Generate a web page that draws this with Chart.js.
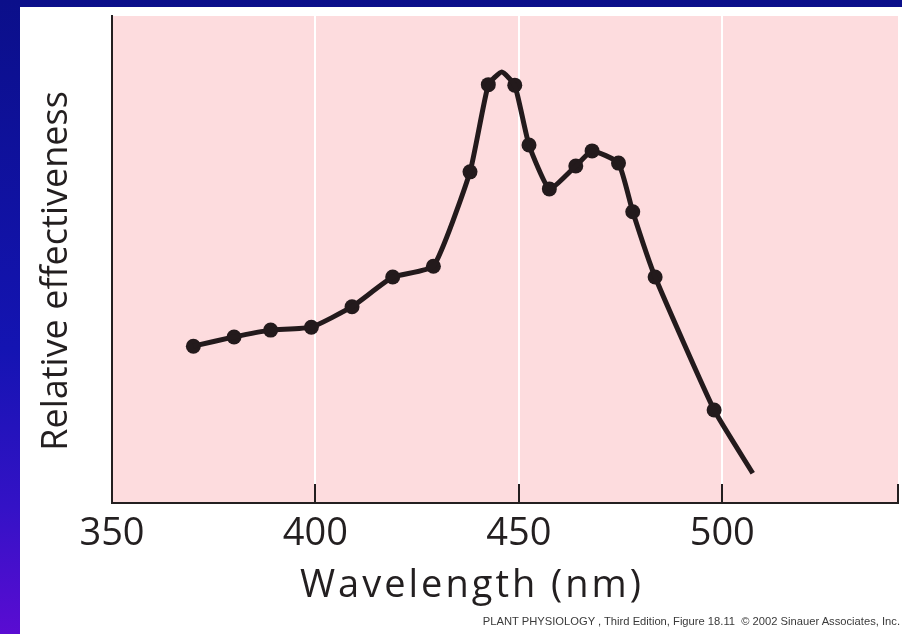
<!DOCTYPE html>
<html>
<head>
<meta charset="utf-8">
<title>Relative effectiveness vs wavelength</title>
<script src="https://cdn.jsdelivr.net/npm/chart.js@4.4.0/dist/chart.umd.min.js"></script>
<style>
	html, body { margin: 0; padding: 0; }
	body {
		width: 902px; height: 634px; overflow: hidden; position: relative;
		background: linear-gradient(to bottom, #0b0f8a 0%, #1414b2 55%, #3412c6 80%, #5a0cd2 100%);
	}
	#slide { position: absolute; left: 20px; top: 7px; width: 882px; height: 627px; background: #ffffff; }
	#chart { position: absolute; left: 0; top: 0; }
	#credit {
		position: absolute; right: 2px; top: 608px;
		font: 11.2px "Liberation Sans", Arial, sans-serif; color: #3a3a3a; white-space: nowrap;
	}
</style>
</head>
<body>
<div id="slide">
	<canvas id="chart" width="882" height="627"></canvas>
	<div id="credit">PLANT PHYSIOLOGY , Third Edition, Figure 18.11 &nbsp;© 2002 Sinauer Associates, Inc.</div>
</div>
<script>
// measured points (wavelength in nm, relative effectiveness on a 0-100 scale)
var wavelengths = [370, 380, 389, 399, 409, 419, 429, 438, 442.5, 449, 452.5, 457.5, 464, 468, 474.5, 478, 483.5, 498];
var effectiveness = [32.2, 34.1, 35.5, 36.1, 40.3, 46.4, 48.6, 68.0, 85.9, 85.8, 73.5, 64.5, 69.2, 72.3, 69.8, 59.8, 46.4, 19.1];

// parts of the traced curve that carry no marker (top of the peak, end of the tail)
var curveOnlyNm = [445.8, 507.5];
var curveOnlyVal = [88.5, 6.1];

// x axis
var xTickValues = [350, 400, 450, 500, 543.2];
var xTickLabels = ['350', '400', '450', '500', ''];

var ink = '#231a1c';

var markers = wavelengths.map(function(nm, i) {
	return { x: nm, y: effectiveness[i] };
});
var curve = markers.concat(curveOnlyNm.map(function(nm, i) {
	return { x: nm, y: curveOnlyVal[i] };
})).sort(function(a, b) { return a.x - b.x; });

var plotBackground = {
	id: 'plotBackground',
	beforeDraw: function(chart) {
		var a = chart.chartArea, ctx = chart.ctx;
		ctx.save();
		ctx.fillStyle = '#fddcde';
		ctx.fillRect(a.left, a.top, a.right - a.left, a.bottom - a.top);
		ctx.restore();
	}
};

var axisTitles = {
	id: 'axisTitles',
	afterDraw: function(chart) {
		var ctx = chart.ctx;
		ctx.save();
		ctx.fillStyle = '#231f20';
		ctx.textAlign = 'center';
		ctx.textBaseline = 'alphabetic';

		ctx.font = '38px "Open Sans"';
		ctx.letterSpacing = '3px';
		ctx.fillText('Wavelength (nm)', 452, 590);

		ctx.letterSpacing = '0px';
		ctx.font = '36px "Open Sans"';
		ctx.translate(47, 264);
		ctx.rotate(-Math.PI / 2);
		ctx.fillText('Relative effectiveness', 0, 0);
		ctx.restore();
	}
};

Chart.defaults.font.family = '"Open Sans", sans-serif';

var chart = new Chart(document.getElementById('chart'), {
	type: 'scatter',
	data: {
		datasets: [
			{
				data: curve,
				showLine: true,
				borderColor: ink,
				borderWidth: 5,
				borderJoinStyle: 'round',
				borderCapStyle: 'butt',
				tension: 0.15,
				pointRadius: 0,
				pointHoverRadius: 0
			},
			{
				data: markers,
				showLine: false,
				pointRadius: 7.5,
				pointHoverRadius: 7.5,
				pointBackgroundColor: ink,
				pointBorderColor: ink,
				pointBorderWidth: 0
			}
		]
	},
	options: {
		responsive: false,
		animation: false,
		layout: { autoPadding: false, padding: { top: 9, right: 4, left: 0, bottom: 0 } },
		plugins: {
			legend: { display: false },
			tooltip: { enabled: false }
		},
		scales: {
			x: {
				type: 'linear',
				min: 350,
				max: 543.2,
				afterBuildTicks: function(scale) {
					scale.ticks = xTickValues.map(function(v) { return { value: v }; });
				},
				afterFit: function(scale) {
					scale.height = 131;
					// labels sit well inside the frame, so no extra side room is needed
					scale.paddingLeft = 0;
					scale.paddingRight = 0;
				},
				ticks: {
					autoSkip: false,
					maxRotation: 0,
					padding: 27,
					color: '#231f20',
					font: { size: 38 },
					callback: function(value, index) { return xTickLabels[index]; }
				},
				grid: {
					color: function(ctx) {
						var i = ctx.index;
						return (i > 0 && xTickLabels[i]) ? '#ffffff' : 'rgba(0,0,0,0)';
					},
					lineWidth: 2,
					drawTicks: true,
					tickLength: -19,
					tickColor: '#231f20',
					tickWidth: 2
				},
				border: { display: true, color: '#231f20', width: 2 }
			},
			y: {
				type: 'linear',
				min: 0,
				max: 100,
				afterFit: function(scale) { scale.width = 92; },
				ticks: { display: false },
				grid: { display: false },
				border: { display: true, color: '#231f20', width: 2 }
			}
		}
	},
	plugins: [plotBackground, axisTitles]
});
</script>
</body>
</html>
